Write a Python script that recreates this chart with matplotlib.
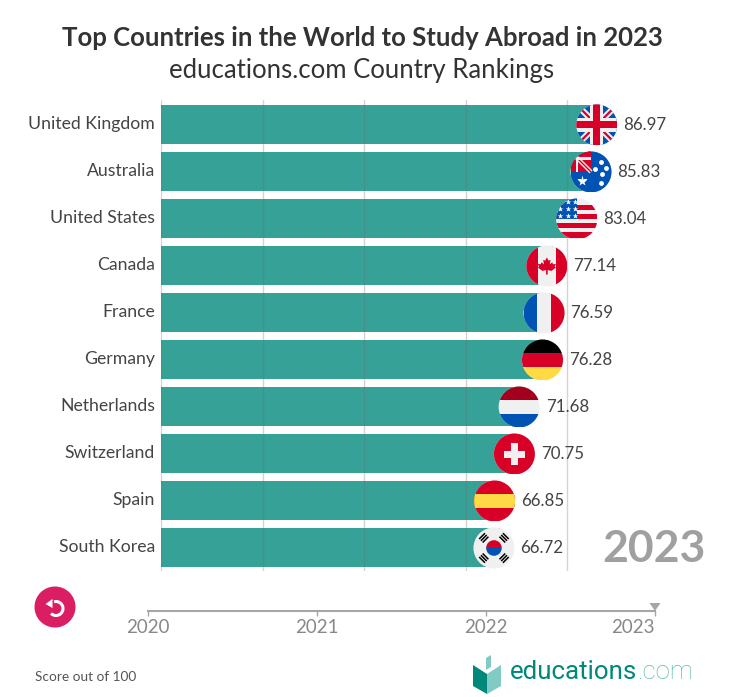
import matplotlib
matplotlib.use('Agg')
import matplotlib.pyplot as plt
from matplotlib.patches import Circle, Rectangle, Polygon, Wedge, Arc

plt.rcParams['font.family'] = ['Lato', 'DejaVu Sans']

countries = ['United Kingdom', 'Australia', 'United States', 'Canada', 'France',
             'Germany', 'Netherlands', 'Switzerland', 'Spain', 'South Korea']
scores = [86.97, 85.83, 83.04, 77.14, 76.59, 76.28, 71.68, 70.75, 66.85, 66.72]
years = [2020, 2021, 2022, 2023]
grid_values = [0, 20, 40, 60, 80]

W, H = 729, 697
TEAL = '#35A197'
BLUE = '#0052B4'
RED = '#D80027'
WHITE = '#F0F0F0'
YELLOW = '#FFDA44'

# unit outline of the maple leaf, relative to the flag radius
LEAF = [(0, -0.42), (0.08, -0.26), (0.18, -0.3), (0.14, -0.08), (0.26, -0.18), (0.3, -0.08),
        (0.44, -0.1), (0.38, 0.04), (0.44, 0.08), (0.22, 0.24), (0.04, 0.2), (0.04, 0.42),
        (-0.04, 0.42), (-0.04, 0.2), (-0.22, 0.24), (-0.44, 0.08), (-0.38, 0.04), (-0.44, -0.1),
        (-0.3, -0.08), (-0.26, -0.18), (-0.14, -0.08), (-0.18, -0.3), (-0.08, -0.26)]


def make_flag(pix, cx, cy, name, r=20.5):
    """Draw a round flag on the pixel overlay, centred at cx, cy."""
    disc = Circle((cx, cy), r, fc=WHITE, ec='none', zorder=5)
    pix.add_patch(disc)

    def clip(artist):
        artist.set_zorder(6)
        pix.add_artist(artist)
        artist.set_clip_path(disc)

    def rect(x0, y0, x1, y1, color):
        clip(Rectangle((cx + x0 * r, cy + y0 * r), (x1 - x0) * r, (y1 - y0) * r, fc=color, ec='none'))

    def bar(x0, y0, x1, y1, width, color):
        line = plt.Line2D([cx + x0 * r, cx + x1 * r], [cy + y0 * r, cy + y1 * r],
                          color=color, lw=width, solid_capstyle='butt')
        clip(line)

    def stars(points, size, color='white', marker='*'):
        art = plt.Line2D([cx + p[0] * r for p in points], [cy + p[1] * r for p in points],
                         ls='none', marker=marker, ms=size, mfc=color, mec='none')
        pix.add_artist(art)
        art.set_zorder(7)
        art.set_clip_path(disc)

    if name == 'United Kingdom':
        rect(-1, -1, 1, 1, BLUE)
        bar(-1, -1, 1, 1, 4.5, WHITE)
        bar(-1, 1, 1, -1, 4.5, WHITE)
        bar(-1, -1, 1, 1, 1.6, RED)
        bar(-1, 1, 1, -1, 1.6, RED)
        rect(-1, -0.32, 1, 0.32, WHITE)
        rect(-0.32, -1, 0.32, 1, WHITE)
        rect(-1, -0.17, 1, 0.17, RED)
        rect(-0.17, -1, 0.17, 1, RED)
    elif name == 'Australia':
        rect(-1, -1, 1, 1, BLUE)
        rect(-1, -1, 0, 0, RED)
        bar(-0.72, -0.72, 0, 0, 3, WHITE)
        bar(-0.72, -0.72, 0, 0, 1, RED)
        rect(-0.75, -0.72, -0.62, 0, WHITE)
        rect(-0.62, -0.72, 0, -0.6, WHITE)
        stars([(-0.42, 0.42)], 8)
        stars([(0.48, -0.48), (0.2, -0.12), (0.72, -0.18), (0.55, 0.1), (0.48, 0.52)], 3.5, marker='o')
    elif name == 'United States':
        rect(-1, -1, 1, 1, WHITE)
        for top in (-0.7, -0.25, 0.2, 0.65):
            rect(-1, top, 1, top + 0.26, RED)
        rect(-1, -1, 0, 0.02, BLUE)
        stars([(-0.42, -0.85), (-0.1, -0.85), (-0.8, -0.5), (-0.42, -0.5), (-0.1, -0.5),
               (-0.8, -0.15), (-0.42, -0.15), (-0.1, -0.15)], 4)
    elif name == 'Canada':
        rect(-1, -1, -0.44, 1, RED)
        rect(0.44, -1, 1, 1, RED)
        clip(Polygon([(cx + x * r, cy + y * r) for x, y in LEAF], fc=RED, ec='none'))
    elif name == 'France':
        rect(-1, -1, -0.36, 1, BLUE)
        rect(0.36, -1, 1, 1, RED)
    elif name == 'Germany':
        rect(-1, -1, 1, -0.33, 'black')
        rect(-1, -0.33, 1, 0.36, RED)
        rect(-1, 0.36, 1, 1, YELLOW)
    elif name == 'Netherlands':
        rect(-1, -1, 1, -0.33, '#A2001D')
        rect(-1, 0.36, 1, 1, BLUE)
    elif name == 'Switzerland':
        rect(-1, -1, 1, 1, RED)
        rect(-0.53, -0.17, 0.53, 0.2, WHITE)
        rect(-0.18, -0.52, 0.18, 0.55, WHITE)
    elif name == 'Spain':
        rect(-1, -1, 1, 1, RED)
        rect(-1, -0.36, 1, 0.36, YELLOW)
    elif name == 'South Korea':
        clip(Wedge((cx, cy), 0.38 * r, 180, 360, fc=RED, ec='none'))
        clip(Wedge((cx, cy), 0.38 * r, 0, 180, fc=BLUE, ec='none'))
        for sx, sy in [(-1, -1), (1, -1), (-1, 1), (1, 1)]:
            for d in (0.58, 0.7, 0.82):
                mx, my = sx * d * 0.707, sy * d * 0.707
                px, py = -sy * 0.707 * 0.2, sx * 0.707 * 0.2
                bar(mx - px, my - py, mx + px, my + py, 1.1, 'black')


fig = plt.figure(figsize=(W / 100, H / 100), dpi=100)

# bars
top_px, bottom_px, right_px = 100, 571, 700
ax = fig.add_axes([161 / W, 1 - bottom_px / H, (right_px - 161) / W, (bottom_px - top_px) / H])
ax.patch.set_alpha(0)
ypos = list(range(len(countries)))
ax.barh(ypos, scores, height=39 / 47, color=TEAL, zorder=2)
ax.set_xlim(0, (right_px - 161) / 5.08)
ax.set_ylim(9.5, -0.52)
for v in grid_values:
    ax.axvline(v, color='#6f6f6f', alpha=0.3, lw=1, zorder=3)
ax.set_yticks(ypos, countries, fontsize=12.7, color='#444444')
for lab in ax.get_yticklabels():
    lab.set_verticalalignment('center')
ax.set_xticks([])
ax.tick_params(axis='y', length=0, pad=4.3)
for side in ax.spines:
    ax.spines[side].set_visible(False)
for i, v in enumerate(scores):
    ax.annotate(f'{v:.2f}', (v, i), xytext=(20.5, 1), textcoords='offset pixels',
                va='center_baseline', ha='left', fontsize=12.2, color='#444444', zorder=8)

# overlay in pixels for flags, button, logo and titles
pix = fig.add_axes([0, 0, 1, 1], zorder=4)
pix.set_xlim(0, W)
pix.set_ylim(H, 0)
pix.axis('off')
fig.canvas.draw()
for i, (name, v) in enumerate(zip(countries, scores)):
    px, py = ax.transData.transform((v, i))
    make_flag(pix, px - 6, H - py + 0.5, name)

fig.text(362 / W, 1 - 37.5 / H, 'Top Countries in the World to Study Abroad in 2023',
         ha='center', va='center', fontsize=18.5, fontweight='bold', color='#333333')
fig.text(362 / W, 1 - 70.5 / H, 'educations.com Country Rankings',
         ha='center', va='center', fontsize=18.5, color='#333333')
fig.text(706 / W, 1 - 549 / H, '2023', ha='right', va='center', fontsize=32,
         fontweight='bold', color='#A0A0A0')
fig.text(35 / W, 1 - 677 / H, 'Score out of 100', ha='left', va='center', fontsize=9.8, color='#555555')

# replay button
pix.add_patch(Circle((55, 607), 20.5, fc='#DB1D63', ec='none'))
pix.add_patch(Arc((56, 608.5), 14, 14, theta1=-106, theta2=135, color='white', lw=2.2))
pix.add_patch(Polygon([[45.5, 604], [52.5, 599], [52.5, 608]], fc='white', ec='none'))

# year slider
tl = fig.add_axes([148 / W, 1 - 611 / H, (655 - 148) / W, 0.001])
tl.set_xlim(years[0], years[-1])
tl.set_yticks([])
tl.patch.set_alpha(0)
for side in ('top', 'left', 'right'):
    tl.spines[side].set_visible(False)
tl.spines['bottom'].set_color('#A6A6A6')
tl.spines['bottom'].set_linewidth(1.5)
tl.set_xticks(years, [str(y) for y in years], fontsize=13.5, color='#888888')
tl.tick_params(axis='x', length=3.6, width=1, color='#A6A6A6', pad=2.5)
tl.get_xticklabels()[-1].set_ha('right')
end_x = tl.transData.transform((years[-1], 0))[0]
pix.add_patch(Polygon([[end_x - 5.5, 603], [end_x + 5.5, 603], [end_x, 611]], fc='#A6A6A6', ec='none'))

# logo
pix.add_patch(Polygon([[473, 665], [487, 674], [487, 694], [473, 686]], fc='#00897B', ec='none'))
pix.add_patch(Polygon([[487, 674], [501, 665], [501, 686], [487, 694]], fc='#80CBC4', ec='none'))
pix.add_patch(Polygon([[486, 658], [491, 655], [491, 667], [486, 670]], fc='#80CBC4', ec='none'))
brand = pix.text(510, 672, 'educations', ha='left', va='center', fontsize=18.6,
                 family='Roboto', color='#00897B')
fig.canvas.draw()
bb = brand.get_window_extent()
pix.text(510 + bb.width, 672, '.com', ha='left', va='center', fontsize=18.6,
         family='Roboto', fontweight='light', color='#5FBDB2')

fig.savefig('out.png', dpi=100)
